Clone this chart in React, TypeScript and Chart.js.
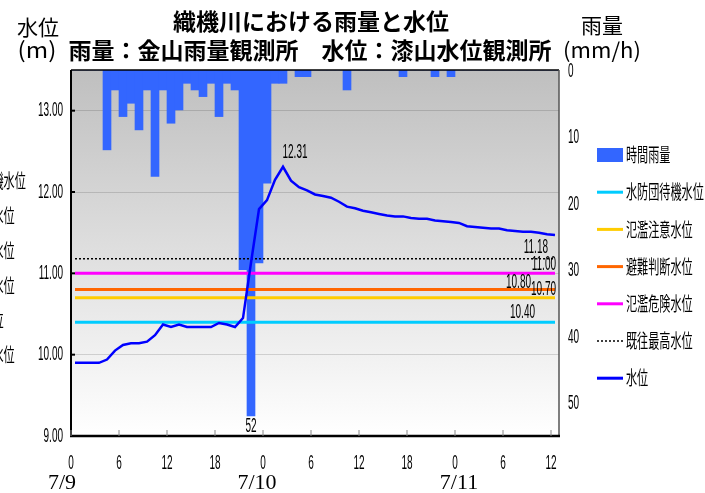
import React, { useEffect, useRef } from 'react';
import { Chart, registerables } from 'chart.js';

Chart.register(...registerables);

// ---- data ----
const HOURS = [
  0, 1, 2, 3, 4, 5, 6, 7, 8, 9, 10, 11, 12, 13, 14, 15, 16, 17, 18, 19, 20,
  21, 22, 23, 24, 25, 26, 27, 28, 29, 30, 31, 32, 33, 34, 35, 36, 37, 38, 39, 40,
  41, 42, 43, 44, 45, 46, 47, 48, 49, 50, 51, 52, 53, 54, 55, 56, 57, 58, 59, 60,
];
const RAIN = [
  0, 0, 0, 0, 12, 3, 7, 5, 9, 3, 16, 3, 8, 6, 2, 3, 4, 2, 7, 2, 3,
  30, 52, 29, 17, 2, 2, 0, 1, 1, 0, 0, 0, 0, 3, 0, 0, 0, 0, 0, 0,
  1, 0, 0, 0, 1, 0, 1, 0, 0, 0, 0, 0, 0, 0, 0, 0, 0, 0, 0, 0,
];
const LEVEL = [
  9.9, 9.9, 9.9, 9.9, 9.94, 10.05, 10.12, 10.14, 10.14, 10.16, 10.24, 10.37, 10.34, 10.37, 10.34, 10.34, 10.34, 10.34, 10.39, 10.37, 10.34,
  10.45, 11.13, 11.79, 11.9, 12.15, 12.31, 12.14, 12.06, 12.02, 11.97, 11.95, 11.93, 11.88, 11.82, 11.8, 11.77, 11.75, 11.73, 11.71, 11.7,
  11.7, 11.68, 11.67, 11.67, 11.65, 11.64, 11.63, 11.62, 11.58, 11.57, 11.56, 11.55, 11.55, 11.53, 11.52, 11.51, 11.51, 11.5, 11.48, 11.47,
];
const STANDBY_LEVEL = 10.4; // 水防団待機水位
const CAUTION_LEVEL = 10.7; // 氾濫注意水位
const EVACUATION_LEVEL = 10.8; // 避難判断水位
const DANGER_LEVEL = 11.0; // 氾濫危険水位
const RECORD_LEVEL = 11.18; // 既往最高水位
const PEAK_LABEL = '12.31';
const MAX_RAIN_LABEL = '52';

const LEFT_TICKS = [10, 11, 12, 13, 9];
const RIGHT_TICKS = [0, 10, 20, 30, 40, 50];
const X_TICK_HOURS = [0, 6, 12, 18, 24, 30, 36, 42, 48, 54, 60];
const X_TICK_LABELS = ['0', '6', '12', '18', '0', '6', '12', '18', '0', '6', '12'];
const DATE_HOURS = [0, 24, 48];
const DATE_LABELS = ['7/9', '7/10', '7/11'];

const TITLE_1 = '織機川における雨量と水位';
const TITLE_2 = '雨量：金山雨量観測所　水位：漆山水位観測所';
const LEGEND_LABELS = ['時間雨量', '水防団待機水位', '氾濫注意水位', '避難判断水位', '氾濫危険水位', '既往最高水位', '水位'];
const GHOST_LABELS = ['水防団待機水位', '氾濫注意水位', '避難判断水位', '氾濫危険水位', '計画高水位', '既往最高水位'];

const C_RAIN = '#3366ff';
const C_LEVEL = '#0000ff';
const C_STANDBY = '#00ccff';
const C_CAUTION = '#ffcc00';
const C_EVAC = '#ff6600';
const C_DANGER = '#ff00ff';
const C_RECORD = '#000000';

const NUM_FONT = '20px "Liberation Sans", Arial, sans-serif';
const NUM_SX = 0.5;
const JP = '"Noto Sans CJK JP", "Noto Sans", sans-serif';

function txt(
  ctx: CanvasRenderingContext2D,
  s: string,
  x: number,
  y: number,
  font: string,
  sx = 1,
  align: 'left' | 'right' | 'center' = 'left',
  baseline: CanvasTextBaseline = 'middle',
  color = '#000',
) {
  ctx.save();
  ctx.font = font;
  ctx.fillStyle = color;
  ctx.textBaseline = baseline;
  ctx.textAlign = 'left';
  const w = ctx.measureText(s).width * sx;
  const x0 = align === 'left' ? x : align === 'right' ? x - w : x - w / 2;
  ctx.translate(x0, y);
  ctx.scale(sx, 1);
  ctx.fillText(s, 0, 0);
  ctx.restore();
}

const decor = {
  id: 'decor',
  beforeDraw(chart: any) {
    const { ctx, chartArea: a } = chart;
    const g = ctx.createLinearGradient(0, a.top, 0, a.bottom);
    g.addColorStop(0, '#bfbfbf');
    g.addColorStop(1, '#ffffff');
    ctx.save();
    ctx.fillStyle = g;
    ctx.fillRect(a.left, a.top, a.right - a.left, a.bottom - a.top);
    ctx.restore();
  },
  afterDraw(chart: any) {
    const { ctx, chartArea: a, scales } = chart;
    const sx = scales.x;
    const sy = scales.y;
    const sr = scales.yR;
    ctx.save();
    // borders
    ctx.strokeStyle = '#000';
    ctx.lineWidth = 1.5;
    ctx.beginPath();
    ctx.moveTo(a.left, a.top);
    ctx.lineTo(a.right, a.top);
    ctx.stroke();
    ctx.strokeStyle = '#555';
    ctx.beginPath();
    ctx.moveTo(a.right, a.top);
    ctx.lineTo(a.right, a.bottom);
    ctx.stroke();
    ctx.strokeStyle = '#000';
    ctx.lineWidth = 2;
    ctx.beginPath();
    ctx.moveTo(a.left, a.top);
    ctx.lineTo(a.left, a.bottom);
    ctx.stroke();
    ctx.lineWidth = 2.5;
    ctx.beginPath();
    ctx.moveTo(a.left - 1, a.bottom);
    ctx.lineTo(a.right + 1, a.bottom);
    ctx.stroke();
    // left ticks
    ctx.lineWidth = 2;
    LEFT_TICKS.forEach((v) => {
      const y = sy.getPixelForValue(v);
      ctx.beginPath();
      ctx.moveTo(a.left, y);
      ctx.lineTo(a.left + 4, y);
      ctx.stroke();
      txt(ctx, v.toFixed(2), a.left - 8, y, NUM_FONT, NUM_SX, 'right');
    });
    // bottom ticks
    ctx.strokeStyle = '#888';
    ctx.lineWidth = 1;
    X_TICK_HOURS.forEach((h, i) => {
      const x = sx.getPixelForValue(h);
      ctx.beginPath();
      ctx.moveTo(x, a.bottom - 6);
      ctx.lineTo(x, a.bottom);
      ctx.stroke();
      txt(ctx, X_TICK_LABELS[i], x, a.bottom + 27, NUM_FONT, NUM_SX, 'center');
    });
    const dateShift = [-9, -6, 4];
    DATE_HOURS.forEach((h, i) => {
      const x = sx.getPixelForValue(h);
      txt(ctx, DATE_LABELS[i], x + dateShift[i], a.bottom + 47, '22px "Liberation Serif", serif', 1, 'center');
    });
    // right axis labels
    RIGHT_TICKS.forEach((v) => {
      const y = sr.getPixelForValue(v);
      txt(ctx, String(v), a.right + 9, y + 1, NUM_FONT, NUM_SX, 'left');
    });
    // value labels
    const peakIdx = LEVEL.indexOf(Math.max(...LEVEL));
    txt(ctx, PEAK_LABEL, sx.getPixelForValue(HOURS[peakIdx] + 0.5) + 12, sy.getPixelForValue(LEVEL[peakIdx]) - 14, NUM_FONT, NUM_SX, 'center');
    const rainIdx = RAIN.indexOf(Math.max(...RAIN));
    txt(ctx, MAX_RAIN_LABEL, sx.getPixelForValue(HOURS[rainIdx] + 0.5), sr.getPixelForValue(RAIN[rainIdx]) + 10, NUM_FONT, NUM_SX, 'center');
    txt(ctx, RECORD_LEVEL.toFixed(2), a.right - 11, sy.getPixelForValue(RECORD_LEVEL) - 1, NUM_FONT, NUM_SX, 'right', 'bottom');
    txt(ctx, DANGER_LEVEL.toFixed(2), a.right - 3, sy.getPixelForValue(DANGER_LEVEL) + 1, NUM_FONT, NUM_SX, 'right', 'bottom');
    txt(ctx, EVACUATION_LEVEL.toFixed(2), a.right - 28, sy.getPixelForValue(EVACUATION_LEVEL) + 3, NUM_FONT, NUM_SX, 'right', 'bottom');
    txt(ctx, CAUTION_LEVEL.toFixed(2), a.right - 3, sy.getPixelForValue(CAUTION_LEVEL) + 2, NUM_FONT, NUM_SX, 'right', 'bottom');
    txt(ctx, STANDBY_LEVEL.toFixed(2), a.right - 24, sy.getPixelForValue(STANDBY_LEVEL), NUM_FONT, NUM_SX, 'right', 'bottom');
    // titles
    txt(ctx, TITLE_1, 311, 21, `bold 23px ${JP}`, 1, 'center');
    txt(ctx, TITLE_2, 310, 50, `bold 23px ${JP}`, 1, 'center');
    txt(ctx, '水位', 17, 27, `21px ${JP}`, 1, 'left');
    txt(ctx, '(m)', 37, 50, `22px ${JP}`, 1.1, 'center');
    txt(ctx, '雨量', 602, 25, `21px ${JP}`, 1, 'center');
    txt(ctx, '(mm/h)', 602, 50, `21px ${JP}`, 1.05, 'center');
    // legend
    const legendColors = [C_RAIN, C_STANDBY, C_CAUTION, C_EVAC, C_DANGER, C_RECORD, C_LEVEL];
    LEGEND_LABELS.forEach((lab, i) => {
      const y = 155 + i * 37.2;
      if (i === 0) {
        ctx.fillStyle = C_RAIN;
        ctx.fillRect(597, y - 7, 26, 14);
      } else {
        ctx.strokeStyle = legendColors[i];
        ctx.lineWidth = i === 5 ? 1.5 : 3;
        ctx.setLineDash(i === 5 ? [2, 2] : []);
        ctx.beginPath();
        ctx.moveTo(597, y);
        ctx.lineTo(623, y);
        ctx.stroke();
        ctx.setLineDash([]);
      }
      txt(ctx, lab, 626, y, `19px ${JP}`, 0.585, 'left');
    });
    GHOST_LABELS.forEach((lab, i) => {
      txt(ctx, lab, -52, 181 + i * 34.8, `19px ${JP}`, 0.585, 'left');
    });
    ctx.restore();
  },
};

export default function App() {
  const ref = useRef<HTMLCanvasElement>(null);
  useEffect(() => {
    const first = HOURS[0] + 0.5;
    const last = HOURS[HOURS.length - 1] + 0.5;
    const flat = (v: number) => [
      { x: first, y: v },
      { x: last, y: v },
    ];
    const lineDs = (data: any, color: string, width: number, order: number, dash: number[] = []) => ({
      type: 'line',
      data,
      borderColor: color,
      borderWidth: width,
      borderDash: dash,
      pointRadius: 0,
      tension: 0,
      fill: false,
      xAxisID: 'x',
      yAxisID: 'y',
      order,
    });
    const chart = new Chart(ref.current as HTMLCanvasElement, {
      type: 'bar',
      data: {
        datasets: [
          {
            type: 'bar',
            data: HOURS.map((h, i) => ({ x: h + 0.5, y: RAIN[i] })),
            backgroundColor: C_RAIN,
            borderWidth: 0,
            barPercentage: 1,
            categoryPercentage: 1,
            xAxisID: 'x',
            yAxisID: 'yR',
            order: 10,
          },
          lineDs(flat(STANDBY_LEVEL), C_STANDBY, 3, 6),
          lineDs(flat(CAUTION_LEVEL), C_CAUTION, 3, 5),
          lineDs(flat(EVACUATION_LEVEL), C_EVAC, 3, 4),
          lineDs(flat(DANGER_LEVEL), C_DANGER, 3, 3),
          lineDs(flat(RECORD_LEVEL), C_RECORD, 1.5, 2, [2, 2]),
          lineDs(HOURS.map((h, i) => ({ x: h + 0.5, y: LEVEL[i] })), C_LEVEL, 2.5, 1),
        ] as any,
      },
      options: {
        animation: false,
        responsive: false,
        events: [],
        layout: { padding: { left: 71, top: 70, right: 146, bottom: 57 } },
        plugins: { legend: { display: false }, tooltip: { enabled: false }, title: { display: false } },
        scales: {
          x: {
            type: 'linear',
            min: 0,
            max: 61,
            offset: false,
            grid: { display: false, drawTicks: false },
            border: { display: false },
            ticks: { display: false, stepSize: 6 },
            afterFit: (s: any) => { s.height = 0; },
          },
          y: {
            type: 'linear',
            position: 'left',
            min: 9,
            max: 13.5,
            grid: {
              drawTicks: false,
              color: (c: any) => (c.tick && Number.isInteger(c.tick.value) ? 'rgba(0,0,0,0.14)' : 'rgba(0,0,0,0)'),
              lineWidth: 1,
            },
            border: { display: false },
            ticks: { display: false, stepSize: 1 },
            afterFit: (s: any) => { s.width = 0; },
          },
          yR: {
            type: 'linear',
            position: 'right',
            reverse: true,
            min: 0,
            max: 55,
            grid: { display: false, drawTicks: false },
            border: { display: false },
            ticks: { display: false, stepSize: 10 },
            afterFit: (s: any) => { s.width = 0; },
          },
        } as any,
      },
      plugins: [decor],
    } as any);
    return () => chart.destroy();
  }, []);
  return (
    <div style={{ position: 'absolute', left: 0, top: 0, width: 705, height: 493, background: '#fff' }}>
      <canvas ref={ref} width={705} height={493} style={{ display: 'block', width: 705, height: 493 }} />
    </div>
  );
}
